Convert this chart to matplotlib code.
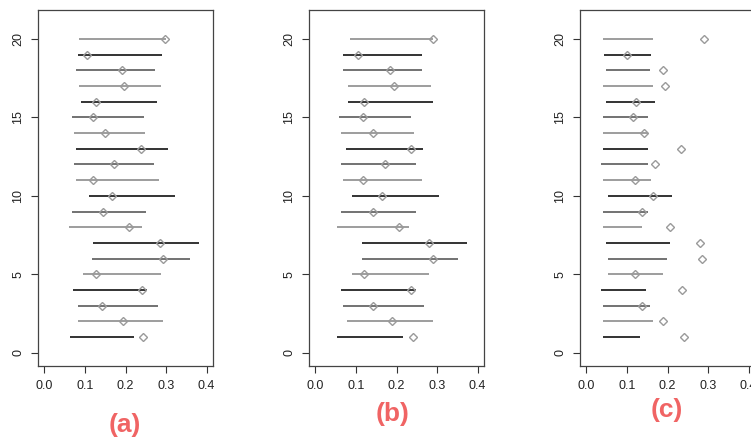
import matplotlib
matplotlib.use('Agg')
import matplotlib.pyplot as plt
import numpy as np

plt.rcParams['font.family'] = ['Liberation Sans', 'DejaVu Sans']

# row index 1..20 (bottom to top)
rows = list(range(1, 21))

# point estimates (shared by the three panels)
est_a = [0.242, 0.194, 0.142, 0.240, 0.127, 0.292, 0.284, 0.208, 0.144, 0.166,
         0.120, 0.172, 0.238, 0.149, 0.119, 0.127, 0.196, 0.192, 0.105, 0.297]
lo_a = [0.062, 0.082, 0.082, 0.070, 0.094, 0.118, 0.120, 0.060, 0.069, 0.110,
        0.079, 0.074, 0.078, 0.072, 0.068, 0.091, 0.086, 0.079, 0.083, 0.086]
hi_a = [0.222, 0.293, 0.281, 0.252, 0.287, 0.360, 0.382, 0.240, 0.250, 0.323,
        0.282, 0.270, 0.306, 0.249, 0.245, 0.278, 0.287, 0.274, 0.290, 0.299]

est_b = [0.240, 0.190, 0.141, 0.235, 0.121, 0.289, 0.279, 0.205, 0.141, 0.163,
         0.118, 0.171, 0.235, 0.143, 0.118, 0.121, 0.193, 0.185, 0.104, 0.289]
lo_b = [0.054, 0.079, 0.069, 0.062, 0.089, 0.114, 0.116, 0.052, 0.062, 0.091,
        0.069, 0.062, 0.076, 0.064, 0.057, 0.081, 0.081, 0.069, 0.067, 0.084]
hi_b = [0.217, 0.289, 0.267, 0.247, 0.281, 0.351, 0.375, 0.230, 0.247, 0.304,
        0.264, 0.249, 0.266, 0.244, 0.235, 0.291, 0.286, 0.262, 0.264, 0.289]

est_c = [0.240, 0.190, 0.138, 0.237, 0.119, 0.286, 0.279, 0.207, 0.138, 0.163,
         0.121, 0.170, 0.234, 0.143, 0.116, 0.123, 0.193, 0.188, 0.099, 0.289]
lo_c = [0.040, 0.040, 0.040, 0.037, 0.052, 0.052, 0.047, 0.040, 0.042, 0.054,
        0.042, 0.037, 0.040, 0.040, 0.042, 0.047, 0.042, 0.047, 0.044, 0.040]
hi_c = [0.131, 0.163, 0.158, 0.146, 0.190, 0.198, 0.207, 0.136, 0.151, 0.212,
        0.160, 0.151, 0.153, 0.151, 0.151, 0.170, 0.163, 0.158, 0.160, 0.163]

panel_labels = ['(a)', '(b)', '(c)']
line_colors = ['#111111', '#8c8c8c', '#5a5a5a']   # cycles by row

x_ticks = [0.0, 0.1, 0.2, 0.3, 0.4]
y_ticks = [0, 5, 10, 15, 20]

fig = plt.figure(figsize=(7.51, 4.40), dpi=100)
lefts = [38 / 751, 309 / 751, 580 / 751]
panels = [(est_a, lo_a, hi_a), (est_b, lo_b, hi_b), (est_c, lo_c, hi_c)]
label_pos = [(125 / 751, 1 - 425 / 440), (393 / 751, 1 - 414 / 440), (667 / 751, 1 - 410 / 440)]

for k, (est, lo, hi) in enumerate(panels):
    ax = fig.add_axes([lefts[k], 1 - 366 / 440, 175 / 751, 356 / 440])
    for i, y in enumerate(rows):
        col = line_colors[i % 3]
        ax.plot([lo[i], hi[i]], [y, y], color=col, lw=1.2, solid_capstyle='butt')
    ax.plot(est, rows, ls='none', marker='D', ms=4, mfc='none', mec='#9a9a9a', mew=1.0)
    ax.set_xlim(-0.016, 0.416)
    ax.set_ylim(-0.84, 21.84)
    ax.set_xticks(x_ticks)
    ax.set_xticklabels([f'{v:.1f}' for v in x_ticks], fontsize=9, color='#222222')
    ax.set_yticks(y_ticks)
    ax.set_yticklabels([str(v) for v in y_ticks], fontsize=9, color='#222222',
                       rotation=90, va='center')
    ax.tick_params(direction='out', length=5, width=0.8, color='#333333', pad=5)
    for sp in ax.spines.values():
        sp.set_color('#444444')
        sp.set_linewidth(0.9)
    fig.text(label_pos[k][0], label_pos[k][1], panel_labels[k], color='#f06464',
             fontsize=19, ha='center', va='center', fontweight='bold')

fig.savefig('out.png', dpi=100)
